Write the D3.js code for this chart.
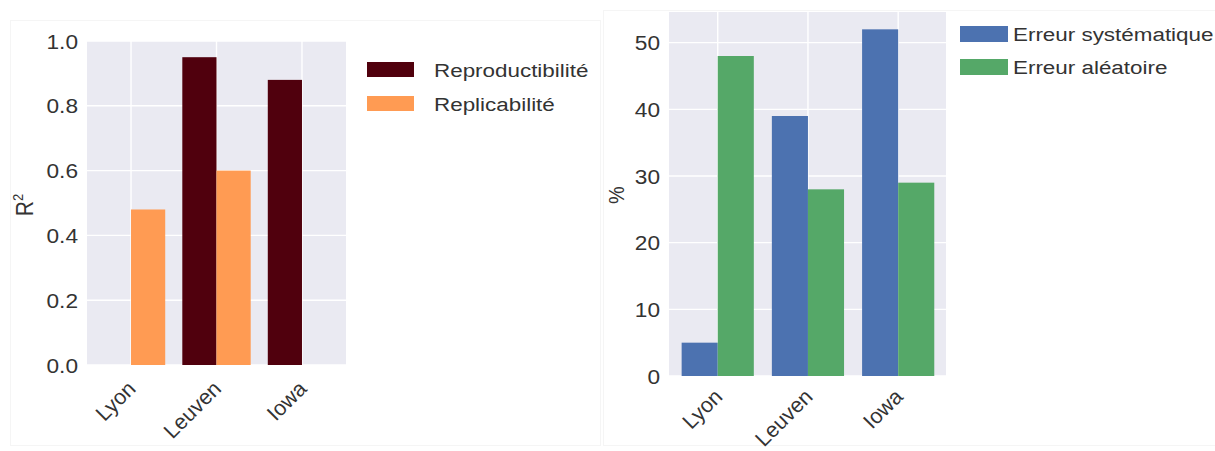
<!DOCTYPE html>
<html><head><meta charset="utf-8">
<script src="https://cdn.jsdelivr.net/npm/d3@7"></script>
<style>html,body{margin:0;padding:0;background:#fff;}svg{display:block;}</style>
</head><body>
<svg id="c" width="1215" height="451"></svg>
<script>
// ---- data ----
const categories = ["Lyon", "Leuven", "Iowa"];
const reproductibilite = [0, 0.95, 0.88];
const replicabilite = [0.48, 0.60, 0];
const leftTicks = [0.0, 0.2, 0.4, 0.6, 0.8, 1.0];
const leftSeries = ["Reproductibilité", "Replicabilité"];

const erreurSystematique = [5, 39, 52];
const erreurAleatoire = [48, 28, 29];
const rightTicks = [0, 10, 20, 30, 40, 50];
const rightSeries = ["Erreur systématique", "Erreur aléatoire"];

// ---- style ----
const FONT = "'Liberation Sans', Arial, sans-serif";
const BG = "#EAEAF2", TXT = "#333333";
const svg = d3.select("#c");

// faint panel frames
svg.append("rect").attr("x",10.5).attr("y",20.5).attr("width",590).attr("height",425)
  .attr("fill","none").attr("stroke","#f5f5f5");
svg.append("rect").attr("x",603.5).attr("y",10.5).attr("width",620).attr("height",435)
  .attr("fill","none").attr("stroke","#f5f5f5");

function txt(g, x, y, s, anchor, rot, size, sx) {
  return g.append("text")
    .attr("transform", `translate(${x},${y}) scale(${sx||1},1) rotate(${rot||0})`)
    .attr("text-anchor", anchor || "start")
    .attr("font-family", FONT).attr("font-size", size)
    .attr("fill", TXT).text(s);
}

function panel(o) {
  const g = svg.append("g");
  const x = d3.scaleLinear().domain(o.xdom).range([o.x0, o.x1]);
  const y = d3.scaleLinear().domain(o.ydom).range([o.y1, o.y0]);
  g.append("rect").attr("x", o.x0).attr("y", o.y0).attr("width", o.x1 - o.x0)
    .attr("height", o.y1 - o.y0).attr("fill", BG);
  // grid
  g.selectAll(".hg").data(o.ticks).join("line")
    .attr("x1", o.x0).attr("x2", o.x1).attr("y1", d => y(d)).attr("y2", d => y(d))
    .attr("stroke", "#fff").attr("stroke-width", 1.4);
  g.selectAll(".vg").data(categories).join("line")
    .attr("x1", (d, i) => x(i)).attr("x2", (d, i) => x(i)).attr("y1", o.y0).attr("y2", o.y1)
    .attr("stroke", "#fff").attr("stroke-width", 1.4);
  // bars
  o.series.forEach((vals, si) => {
    g.selectAll(null).data(vals).join("rect")
      .attr("x", (d, i) => x(i - 0.4 + si * 0.4))
      .attr("width", (d, i) => x(i) - x(i - 0.4))
      .attr("y", d => y(d)).attr("height", d => y(0) - y(d))
      .attr("fill", o.colors[si]);
  });
  // y tick labels
  o.ticks.forEach(t => {
    txt(g, o.x0 - 9, y(t) + 7.5, o.fmt(t), "end", 0, o.fs, 1.08);
  });
  // x tick labels
  categories.forEach((c, i) => {
    txt(g, x(i) - 5, o.y1 + o.xlo, c, "end", -45, 21.5, 1).attr("dy", "0.72em");
  });
  // legend
  o.legend.forEach((name, li) => {
    const ly = o.ly + li * o.lstep;
    g.append("rect").attr("x", o.lx).attr("y", ly).attr("width", o.lw).attr("height", o.lh)
      .attr("fill", o.colors[li]);
    txt(g, o.lx + o.ltx, ly + o.lh / 2 + 7, name, "start", 0, o.lfs, 1.18);
  });
  return {g, x, y};
}

const L = panel({
  x0: 87, x1: 346, y0: 41, y1: 365, xdom: [-0.515, 2.515], ydom: [0, 1],
  ticks: leftTicks, fmt: d3.format(".1f"), fs: 21, xlo: 14,
  series: [reproductibilite, replicabilite], colors: ["#50000D", "#FF9B53"],
  legend: leftSeries, lx: 367, ly: 62, lstep: 34, lw: 47, lh: 15, ltx: 67, lfs: 19
});
// y label R²
const rl = L.g.append("text")
  .attr("transform", `translate(33,205) scale(1.1,1) rotate(-90)`)
  .attr("text-anchor", "middle").attr("font-family", FONT).attr("font-size", 21).attr("fill", TXT);
rl.append("tspan").text("R");
rl.append("tspan").attr("dy", -9).attr("font-size", 13).text("2");

const R = panel({
  x0: 669, x1: 946, y0: 12, y1: 376, xdom: [-0.54, 2.53], ydom: [0, 54.6],
  ticks: rightTicks, fmt: d3.format("d"), fs: 21, xlo: 11,
  series: [erreurSystematique, erreurAleatoire], colors: ["#4C72B0", "#55A868"],
  legend: rightSeries, lx: 960, ly: 26, lstep: 33, lw: 48, lh: 16, ltx: 53, lfs: 19
});
R.g.append("text")
  .attr("transform", `translate(624,195) scale(1.1,1) rotate(-90)`)
  .attr("text-anchor", "middle").attr("font-family", FONT).attr("font-size", 20).attr("fill", TXT)
  .text("%");
</script>
</body></html>
